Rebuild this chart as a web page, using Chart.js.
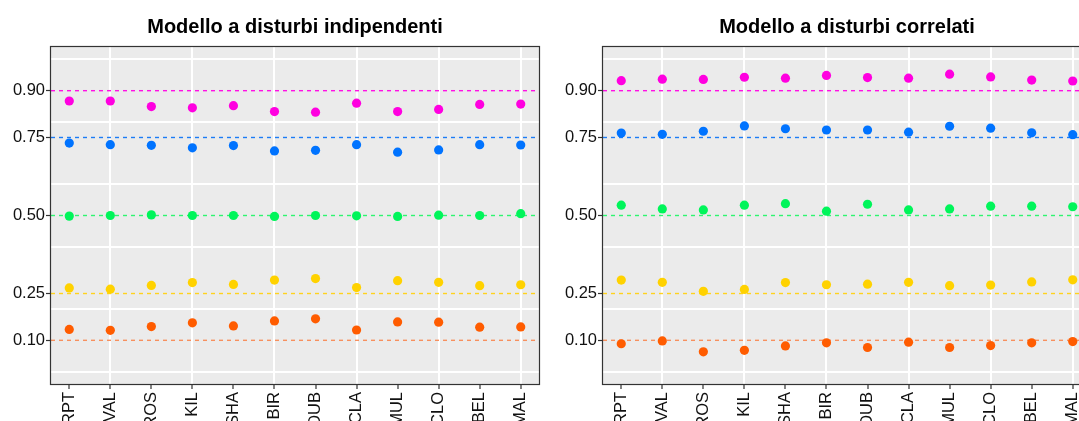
<!DOCTYPE html>
<html>
<head>
<meta charset="utf-8">
<script src="https://cdn.jsdelivr.net/npm/chart.js@4.4.0/dist/chart.umd.min.js"></script>
<style>
  html, body { margin: 0; padding: 0; background: #ffffff; overflow: hidden; width: 1079px; height: 421px; }
  #wrap { position: relative; width: 1079px; height: 421px; overflow: hidden; }
  canvas { position: absolute; top: 0; }
</style>
</head>
<body>
<div id="wrap">
  <canvas id="indep" width="545" height="421" style="left:0px"></canvas>
  <canvas id="corr" width="545" height="421" style="left:552px"></canvas>
</div>
<script>
// Stations on the horizontal axis
const CATEGORIES = ['RPT', 'VAL', 'ROS', 'KIL', 'SHA', 'BIR', 'DUB', 'CLA', 'MUL', 'CLO', 'BEL', 'MAL'];

// Nominal levels (reference lines and y tick labels)
const LEVELS = [0.10, 0.25, 0.50, 0.75, 0.90];

// White background grid on the y axis
const Y_GRID = [0, 0.2, 0.4, 0.6, 0.8, 1.0];

// Independent-disturbance model: empirical values per level
const INDEP_10 = [0.135, 0.132, 0.144, 0.156, 0.146, 0.162, 0.169, 0.133, 0.159, 0.158, 0.142, 0.143];
const INDEP_25 = [0.268, 0.264, 0.276, 0.285, 0.279, 0.293, 0.298, 0.269, 0.291, 0.286, 0.275, 0.278];
const INDEP_50 = [0.498, 0.500, 0.502, 0.500, 0.500, 0.497, 0.500, 0.499, 0.497, 0.501, 0.500, 0.506];
const INDEP_75 = [0.732, 0.727, 0.725, 0.717, 0.724, 0.707, 0.709, 0.727, 0.703, 0.710, 0.727, 0.726];
const INDEP_90 = [0.867, 0.867, 0.849, 0.845, 0.852, 0.833, 0.831, 0.860, 0.833, 0.840, 0.856, 0.857];

// Correlated-disturbance model: empirical values per level
const CORR_10 = [0.089, 0.098, 0.063, 0.068, 0.082, 0.092, 0.077, 0.094, 0.077, 0.083, 0.092, 0.096];
const CORR_25 = [0.293, 0.286, 0.257, 0.263, 0.285, 0.278, 0.280, 0.286, 0.275, 0.277, 0.287, 0.294];
const CORR_50 = [0.533, 0.521, 0.518, 0.533, 0.538, 0.514, 0.536, 0.518, 0.521, 0.530, 0.530, 0.528];
const CORR_75 = [0.764, 0.760, 0.770, 0.787, 0.778, 0.774, 0.774, 0.767, 0.786, 0.780, 0.765, 0.759];
const CORR_90 = [0.932, 0.937, 0.936, 0.943, 0.940, 0.949, 0.942, 0.940, 0.953, 0.944, 0.934, 0.931];

// Colours, one per level (point colour, dashed-line colour)
const POINT_COLORS = ['#FF5C00', '#FFD200', '#00F55A', '#0073FF', '#FF00E0'];
const LINE_COLORS  = ['#F7905E', '#FFD21E', '#2EF570', '#1C7CF5', '#FF10E4'];

// Axis limits
const X_MIN = 0.555, X_MAX = 12.445;
const Y_MIN = -0.04, Y_MAX = 1.04;

const FONT = "'Liberation Sans', Arial, Helvetica, sans-serif";

// Panel background and frame
const panelPlugin = {
  id: 'panel',
  beforeDraw(chart) {
    const { ctx, chartArea: a } = chart;
    ctx.save();
    ctx.fillStyle = '#EBEBEB';
    ctx.fillRect(a.left, a.top, a.right - a.left, a.bottom - a.top);
    ctx.restore();
  },
  afterDraw(chart) {
    const { ctx, chartArea: a } = chart;
    ctx.save();
    ctx.strokeStyle = '#333333';
    ctx.lineWidth = 1.2;
    ctx.strokeRect(a.left - 0.5, a.top - 0.5, a.right - a.left + 1, a.bottom - a.top + 1);
    ctx.restore();
  }
};

function buildChart(canvasId, title, series) {
  const datasets = [];
  series.forEach((vals, k) => {
    datasets.push({
      type: 'scatter',
      data: vals.map((v, i) => ({ x: i + 1, y: v })),
      backgroundColor: POINT_COLORS[k],
      borderColor: POINT_COLORS[k],
      borderWidth: 0,
      pointRadius: 4.6,
      pointHoverRadius: 4.6,
      order: 0
    });
  });
  LEVELS.forEach((lvl, k) => {
    datasets.push({
      type: 'line',
      data: [{ x: X_MIN, y: lvl }, { x: X_MAX, y: lvl }],
      borderColor: LINE_COLORS[k],
      borderWidth: 1.4,
      borderDash: [4, 4],
      pointRadius: 0,
      fill: false,
      order: 1
    });
  });

  return new Chart(document.getElementById(canvasId), {
    data: { datasets },
    plugins: [panelPlugin],
    options: {
      responsive: false,
      animation: false,
      events: [],
      layout: { padding: { left: 0, right: 6, top: 0, bottom: 0 } },
      plugins: {
        legend: { display: false },
        tooltip: { enabled: false },
        title: {
          display: true,
          text: title,
          fullSize: false,
          color: '#000000',
          font: { family: FONT, size: 20, weight: 'bold', lineHeight: 1.2 },
          padding: { top: 15, bottom: 8 }
        }
      },
      scales: {
        x: {
          type: 'linear',
          min: X_MIN,
          max: X_MAX,
          afterBuildTicks: s => { s.ticks = CATEGORIES.map((_, i) => ({ value: i + 1 })); },
          afterFit: s => { s.height = 37; },
          border: { display: false },
          grid: {
            color: c => (c.tick && c.tick.value % 2 === 0) ? '#FFFFFF' : 'rgba(0,0,0,0)',
            lineWidth: 2,
            tickColor: '#333333',
            tickWidth: 1.2,
            tickLength: 5
          },
          ticks: {
            autoSkip: false,
            minRotation: 90,
            maxRotation: 90,
            padding: 3,
            color: '#111111',
            font: { family: FONT, size: 16.5 },
            callback: v => CATEGORIES[Math.round(v) - 1]
          }
        },
        y: {
          type: 'linear',
          position: 'left',
          min: Y_MIN,
          max: Y_MAX,
          afterBuildTicks: s => { s.ticks = LEVELS.map(v => ({ value: v })); },
          afterFit: s => { s.width = 51; },
          border: { display: false },
          grid: {
            drawOnChartArea: false,
            tickColor: '#333333',
            tickWidth: 1.2,
            tickLength: 5
          },
          ticks: {
            padding: 1,
            color: '#111111',
            font: { family: FONT, size: 16.5 },
            callback: v => v.toFixed(2)
          }
        },
        yGrid: {
          type: 'linear',
          position: 'left',
          min: Y_MIN,
          max: Y_MAX,
          afterBuildTicks: s => { s.ticks = Y_GRID.map(v => ({ value: v })); },
          afterFit: s => { s.width = 0; },
          border: { display: false },
          grid: { color: '#FFFFFF', lineWidth: 2, drawTicks: false },
          ticks: { display: false }
        }
      }
    }
  });
}

buildChart('indep', 'Modello a disturbi indipendenti', [INDEP_10, INDEP_25, INDEP_50, INDEP_75, INDEP_90]);
buildChart('corr', 'Modello a disturbi correlati', [CORR_10, CORR_25, CORR_50, CORR_75, CORR_90]);
</script>
</body>
</html>
